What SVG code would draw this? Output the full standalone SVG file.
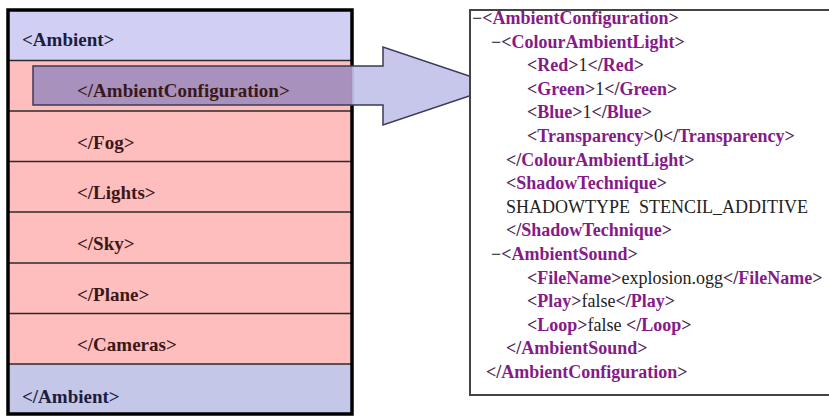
<svg xmlns="http://www.w3.org/2000/svg" width="829" height="416" viewBox="0 0 829 416">
<style>
.lt{font-size:19px;font-weight:bold}
.hd{fill:#1c1c40}
.rw{fill:#3a1818}
.sep{stroke:#2a2a2a;stroke-width:1.5}
.x{font-size:18px}
.b{fill:#4a2650;font-weight:bold}
.n{fill:#861a88;font-weight:bold}
.v{fill:#222}
</style>
<rect width="829" height="416" fill="#fff"/>
<g id="ambient-box">
<rect x="8" y="10" width="344" height="50.5" fill="#d1d0f4"/>
<rect x="8" y="60.5" width="344" height="303.5" fill="#ffbebe"/>
<rect x="8" y="364" width="344" height="50" fill="#c4c7e8"/>
<line class="sep" x1="8" y1="60.5" x2="352" y2="60.5"/>
<line class="sep" x1="8" y1="111" x2="352" y2="111"/>
<line class="sep" x1="8" y1="161.5" x2="352" y2="161.5"/>
<line class="sep" x1="8" y1="212" x2="352" y2="212"/>
<line class="sep" x1="8" y1="263" x2="352" y2="263"/>
<line class="sep" x1="8" y1="313.5" x2="352" y2="313.5"/>
<line class="sep" x1="8" y1="364" x2="352" y2="364"/>
<rect x="8" y="10" width="344" height="404" fill="none" stroke="#000" stroke-width="3.5"/>
</g>
<g id="connectors">
<polygon points="33,66 383,66 383,47 499,86 383,125 383,105 33,105" fill="#c2c2ea" fill-opacity="0.92"/>
<rect x="33" y="66" width="319" height="39" fill="#a58db9" fill-opacity="0.92"/>
<polygon points="33,66 383,66 383,47 499,86 383,125 383,105 33,105" fill="none" stroke="#3a3a5a" stroke-width="1.5"/>
</g>
<g id="left-labels" class="lt" font-family="'Liberation Serif', 'Times New Roman', serif">
<text class="hd" x="22" y="46">&lt;Ambient&gt;</text>
<text class="rw" x="77" y="97">&lt;/AmbientConfiguration&gt;</text>
<text class="rw" x="77" y="149">&lt;/Fog&gt;</text>
<text class="rw" x="77" y="199">&lt;/Lights&gt;</text>
<text class="rw" x="77" y="250">&lt;/Sky&gt;</text>
<text class="rw" x="77" y="301">&lt;/Plane&gt;</text>
<text class="rw" x="77" y="351">&lt;/Cameras&gt;</text>
<text class="hd" x="22" y="403">&lt;/Ambient&gt;</text>
</g>
<g id="xml-panel" class="x" font-family="'Liberation Serif', 'Times New Roman', serif">
<rect x="470" y="10" width="370" height="385" fill="#fff" stroke="#444" stroke-width="2"/>
<text x="472" y="24"><tspan class="v">−</tspan><tspan class="b">&lt;</tspan><tspan class="n">AmbientConfiguration</tspan><tspan class="b">&gt;</tspan></text>
<text x="491" y="47.6"><tspan class="v">−</tspan><tspan class="b">&lt;</tspan><tspan class="n">ColourAmbientLight</tspan><tspan class="b">&gt;</tspan></text>
<text x="527" y="71.2"><tspan class="b">&lt;</tspan><tspan class="n">Red</tspan><tspan class="b">&gt;</tspan><tspan class="v">1</tspan><tspan class="b">&lt;/</tspan><tspan class="n">Red</tspan><tspan class="b">&gt;</tspan></text>
<text x="527" y="94.8"><tspan class="b">&lt;</tspan><tspan class="n">Green</tspan><tspan class="b">&gt;</tspan><tspan class="v">1</tspan><tspan class="b">&lt;/</tspan><tspan class="n">Green</tspan><tspan class="b">&gt;</tspan></text>
<text x="527" y="118.4"><tspan class="b">&lt;</tspan><tspan class="n">Blue</tspan><tspan class="b">&gt;</tspan><tspan class="v">1</tspan><tspan class="b">&lt;/</tspan><tspan class="n">Blue</tspan><tspan class="b">&gt;</tspan></text>
<text x="527" y="142"><tspan class="b">&lt;</tspan><tspan class="n">Transparency</tspan><tspan class="b">&gt;</tspan><tspan class="v">0</tspan><tspan class="b">&lt;/</tspan><tspan class="n">Transparency</tspan><tspan class="b">&gt;</tspan></text>
<text x="506" y="165.6"><tspan class="b">&lt;/</tspan><tspan class="n">ColourAmbientLight</tspan><tspan class="b">&gt;</tspan></text>
<text x="506" y="189.2"><tspan class="b">&lt;</tspan><tspan class="n">ShadowTechnique</tspan><tspan class="b">&gt;</tspan></text>
<text x="506" y="212.8" class="v" xml:space="preserve">SHADOWTYPE  STENCIL_ADDITIVE</text>
<text x="506" y="236.4"><tspan class="b">&lt;/</tspan><tspan class="n">ShadowTechnique</tspan><tspan class="b">&gt;</tspan></text>
<text x="491" y="260"><tspan class="v">−</tspan><tspan class="b">&lt;</tspan><tspan class="n">AmbientSound</tspan><tspan class="b">&gt;</tspan></text>
<text x="527" y="283.6"><tspan class="b">&lt;</tspan><tspan class="n">FileName</tspan><tspan class="b">&gt;</tspan><tspan class="v">explosion.ogg</tspan><tspan class="b">&lt;/</tspan><tspan class="n">FileName</tspan><tspan class="b">&gt;</tspan></text>
<text x="527" y="307.2"><tspan class="b">&lt;</tspan><tspan class="n">Play</tspan><tspan class="b">&gt;</tspan><tspan class="v">false</tspan><tspan class="b">&lt;/</tspan><tspan class="n">Play</tspan><tspan class="b">&gt;</tspan></text>
<text x="527" y="330.8" xml:space="preserve"><tspan class="b">&lt;</tspan><tspan class="n">Loop</tspan><tspan class="b">&gt;</tspan><tspan class="v">false </tspan><tspan class="b">&lt;/</tspan><tspan class="n">Loop</tspan><tspan class="b">&gt;</tspan></text>
<text x="506" y="354.4"><tspan class="b">&lt;/</tspan><tspan class="n">AmbientSound</tspan><tspan class="b">&gt;</tspan></text>
<text x="486" y="378"><tspan class="b">&lt;/</tspan><tspan class="n">AmbientConfiguration</tspan><tspan class="b">&gt;</tspan></text>
</g>
</svg>
